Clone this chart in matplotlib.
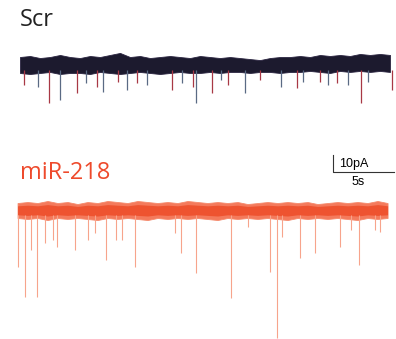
import numpy as np
import matplotlib.pyplot as plt

# event times (s) and amplitudes (pA)
scr_t = [0.33, 1.48, 2.38, 3.28, 4.67, 5.41, 6.31, 6.80, 8.03, 8.77, 9.59, 10.41,
         12.46, 13.28, 14.18, 14.43, 15.74, 16.48, 17.05, 18.44, 19.67, 21.39,
         22.70, 23.20, 24.59, 25.25, 25.98, 26.89, 27.95, 28.52, 30.49]
scr_amp = [-11.8, -12.9, -22.4, -20.6, -16.5, -10.6, -12.9, -15.9, -10.0, -14.7, -10.6, -11.8,
           -14.7, -10.6, -12.9, -22.4, -16.5, -8.8, -11.8, -16.5, -8.8, -12.9,
           -13.5, -10.0, -10.0, -11.8, -10.6, -11.8, -22.4, -10.0, -14.7]

mir_t = [0.0, 0.57, 1.07, 1.56, 2.21, 2.87, 3.20, 4.67, 5.74, 6.31, 7.21, 8.03, 8.52,
         9.59, 12.87, 13.36, 14.59, 17.46, 18.85, 20.66, 21.23, 21.64, 23.11, 24.34,
         26.39, 27.30, 27.95, 29.26, 29.67]
mir_amp = [-33.5, -51.2, -23.5, -51.2, -19.4, -17.6, -21.8, -23.5, -17.6, -13.5, -29.4, -17.6, -17.6,
           -33.5, -13.5, -25.3, -37.1, -51.8, -10.0, -36.5, -75.3, -15.9, -28.2, -25.3,
           -21.8, -11.8, -32.4, -11.8, -12.9]

# noise band envelope (pA around baseline), read every ~0.82 s
scr_top = [4.7, 5.3, 4.1, 4.7, 5.9, 4.7, 4.1, 5.3, 4.7, 5.9, 7.1, 4.7, 5.3, 4.1, 4.7, 5.3, 4.7, 4.1, 5.3,
           4.7, 4.1, 4.7, 4.1, 3.5, 2.9, 4.1, 4.7, 4.7, 5.3, 4.7, 5.9, 5.3, 5.9, 5.3, 6.5, 5.9, 6.5, 5.9]
scr_bot = [-4.7, -5.3, -4.7, -4.1, -5.3, -4.7, -4.7, -5.3, -4.1, -4.7, -5.3, -4.7, -4.1, -4.7, -5.3, -4.7,
           -4.1, -4.7, -4.7, -4.1, -4.7, -4.1, -4.1, -4.7, -4.1, -4.1, -4.7, -4.1, -4.1, -3.5, -4.1, -4.7,
           -3.5, -4.1, -3.5, -4.1, -3.5, -4.1]

mir_top = [4.1, 4.7, 4.1, 5.3, 4.1, 4.7, 3.5, 4.7, 4.1, 5.3, 4.7, 4.1, 5.3, 4.7, 4.1, 4.7, 4.1, 5.3, 4.7,
           4.1, 4.7, 4.1, 4.7, 3.5, 4.1, 4.7, 4.1, 4.7, 4.1, 4.7, 3.5, 4.1, 4.7, 4.1, 4.7, 4.1, 5.3, 4.1]
mir_bot = [-4.7, -5.3, -4.7, -5.9, -4.7, -5.3, -4.7, -5.3, -5.9, -4.7, -5.3, -4.7, -5.3, -5.9, -4.7, -5.3,
           -4.7, -5.3, -4.7, -5.3, -5.9, -4.7, -5.3, -4.7, -5.3, -4.7, -5.3, -5.9, -4.7, -5.3, -4.7, -5.3,
           -4.7, -5.3, -5.9, -4.7, -5.3, -4.7]

px_s = 61 / 5.0      # pixels per second
px_pa = 17 / 10.0    # pixels per pA

env_t = np.linspace(0, 370 / px_s, len(scr_top))

fig = plt.figure(figsize=(3.96, 3.39), dpi=100)
ax = fig.add_axes([0, 0, 1, 1])
ax.set_xlim(-20 / px_s, 376 / px_s)
ax.set_ylim(-339 / px_pa, 0)
ax.axis('off')

scr_base = -65 / px_pa
mir_base = -210 / px_pa

# Scr trace
cols = ['#a83845', '#5a6a84']
for i, (t, a) in enumerate(zip(scr_t, scr_amp)):
    ax.vlines(t, scr_base - 3, scr_base + a, color=cols[i % 2], lw=0.9)
ax.fill_between(env_t, np.array(scr_top) + scr_base, np.array(scr_bot) + scr_base,
                color='#1c1a2e', lw=0.6, edgecolor='#2a2440')

# miR-218 trace
for t, a in zip(mir_t, mir_amp):
    ax.vlines(t - 0.2, mir_base - 3, mir_base + a, color='#f7a48c', lw=0.8)
ax.fill_between(env_t - 0.2, np.array(mir_top) + mir_base, np.array(mir_bot) + mir_base,
                color='#f47a5c', lw=0.6, edgecolor='#f58a6c')
ax.fill_between(env_t - 0.2, np.array(mir_top) * 0.6 + mir_base, np.array(mir_bot) * 0.6 + mir_base,
                color='#ee5330', lw=0)

ax.text(0, -20 / px_pa, 'Scr', fontsize=17, family='Open Sans', color='#222222',
        va='center', ha='left')
ax.text(0, -173 / px_pa, 'miR-218', fontsize=17, family='Open Sans', color='#ee4a2c',
        va='center', ha='left')

# scale bar 10 pA / 5 s
sx = (333 - 20) / px_s
sy = -172 / px_pa
ax.plot([sx, sx, sx + 5], [sy + 10, sy, sy], color='#333333', lw=0.8)
ax.text(sx + 0.5, sy + 5, '10pA', fontsize=9, family='Liberation Sans', va='center', ha='left')
ax.text(sx + 2.1, sy - 6, '5s', fontsize=9, family='Liberation Sans', va='center', ha='center')

fig.savefig('out.png', dpi=100)
